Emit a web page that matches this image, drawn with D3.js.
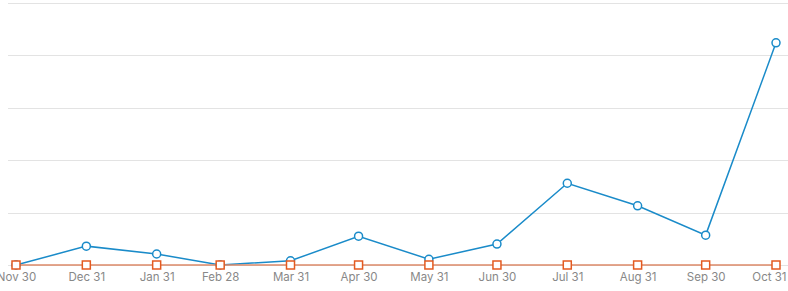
<!DOCTYPE html>
<html>
<head>
<meta charset="utf-8">
<script src="https://cdn.jsdelivr.net/npm/d3@7"></script>
<style>
  body { margin: 0; background: #fff; }
  .tick text { font-family: "Inter", "Roboto", sans-serif; }
</style>
</head>
<body>
<svg id="chart" width="788" height="291"></svg>
<script>
const width = 788, height = 291;
const margin = { top: 3, right: 12, bottom: 26, left: 16 };

const dates = ["2020-11-30", "2020-12-31", "2021-01-31", "2021-02-28", "2021-03-31", "2021-04-30",
    "2021-05-31", "2021-06-30", "2021-07-31", "2021-08-31", "2021-09-30", "2021-10-31"];
const tickLabels = ["Nov 30", "Dec 31", "Jan 31", "Feb 28", "Mar 31", "Apr 30",
    "May 31", "Jun 30", "Jul 31", "Aug 31", "Sep 30", "Oct 31"];
const blueValues = [0, 36, 21, 0, 8, 55, 11, 40, 156, 113, 57, 424];
const orangeValues = [0, 0, 0, 0, 0, 0, 0, 0, 0, 0, 0, 0];
const gridValues = [0, 100, 200, 300, 400, 500];

const parseDate = d3.timeParse("%Y-%m-%d");
const parsedDates = dates.map(parseDate);

const svg = d3.select("#chart");

const x = d3.scaleTime()
    .domain(d3.extent(parsedDates))
    .range([margin.left, width - margin.right]);

const y = d3.scaleLinear()
    .domain([0, 500])
    .range([height - margin.bottom, margin.top]);

// grid lines
svg.append("g")
    .selectAll("line")
    .data(gridValues)
    .enter()
    .append("line")
    .attr("x1", 8)
    .attr("x2", width)
    .attr("y1", d => Math.round(y(d)) + 0.5)
    .attr("y2", d => Math.round(y(d)) + 0.5)
    .attr("stroke", "#e3e3e3")
    .attr("stroke-width", 1);

// x axis labels
const xAxis = svg.append("g")
    .attr("transform", `translate(0,${height - margin.bottom})`)
    .call(d3.axisBottom(x)
        .tickValues(parsedDates)
        .tickFormat((d, i) => tickLabels[i])
        .tickSize(0)
        .tickPadding(8));
xAxis.select(".domain").remove();
xAxis.selectAll("text")
    .style("fill", "#888888")
    .style("font-size", "11.5px");
// last label is pushed inside the right edge
xAxis.selectAll("text")
    .filter((d, i) => i === tickLabels.length - 1)
    .attr("text-anchor", "end")
    .attr("dx", 10);

const line = d3.line()
    .x((d, i) => x(parsedDates[i]))
    .y(d => y(d));

// blue series
svg.append("path")
    .datum(blueValues)
    .attr("fill", "none")
    .attr("stroke", "#1a8bc9")
    .attr("stroke-width", 1.5)
    .attr("d", line);

// orange series line
svg.append("path")
    .datum(orangeValues)
    .attr("fill", "none")
    .attr("stroke", "#dc8a68")
    .attr("stroke-width", 1.5)
    .attr("d", line);

svg.append("g")
    .selectAll("circle")
    .data(blueValues)
    .enter()
    .append("circle")
    .attr("cx", (d, i) => x(parsedDates[i]))
    .attr("cy", d => y(d))
    .attr("r", 4)
    .attr("fill", "#fff")
    .attr("stroke", "#1a8bc9")
    .attr("stroke-width", 1.5);

svg.append("g")
    .selectAll("rect")
    .data(orangeValues)
    .enter()
    .append("rect")
    .attr("x", (d, i) => x(parsedDates[i]) - 4)
    .attr("y", d => y(d) - 4)
    .attr("width", 8)
    .attr("height", 8)
    .attr("fill", "#fff")
    .attr("stroke", "#e45a20")
    .attr("stroke-width", 1.5);
</script>
</body>
</html>
